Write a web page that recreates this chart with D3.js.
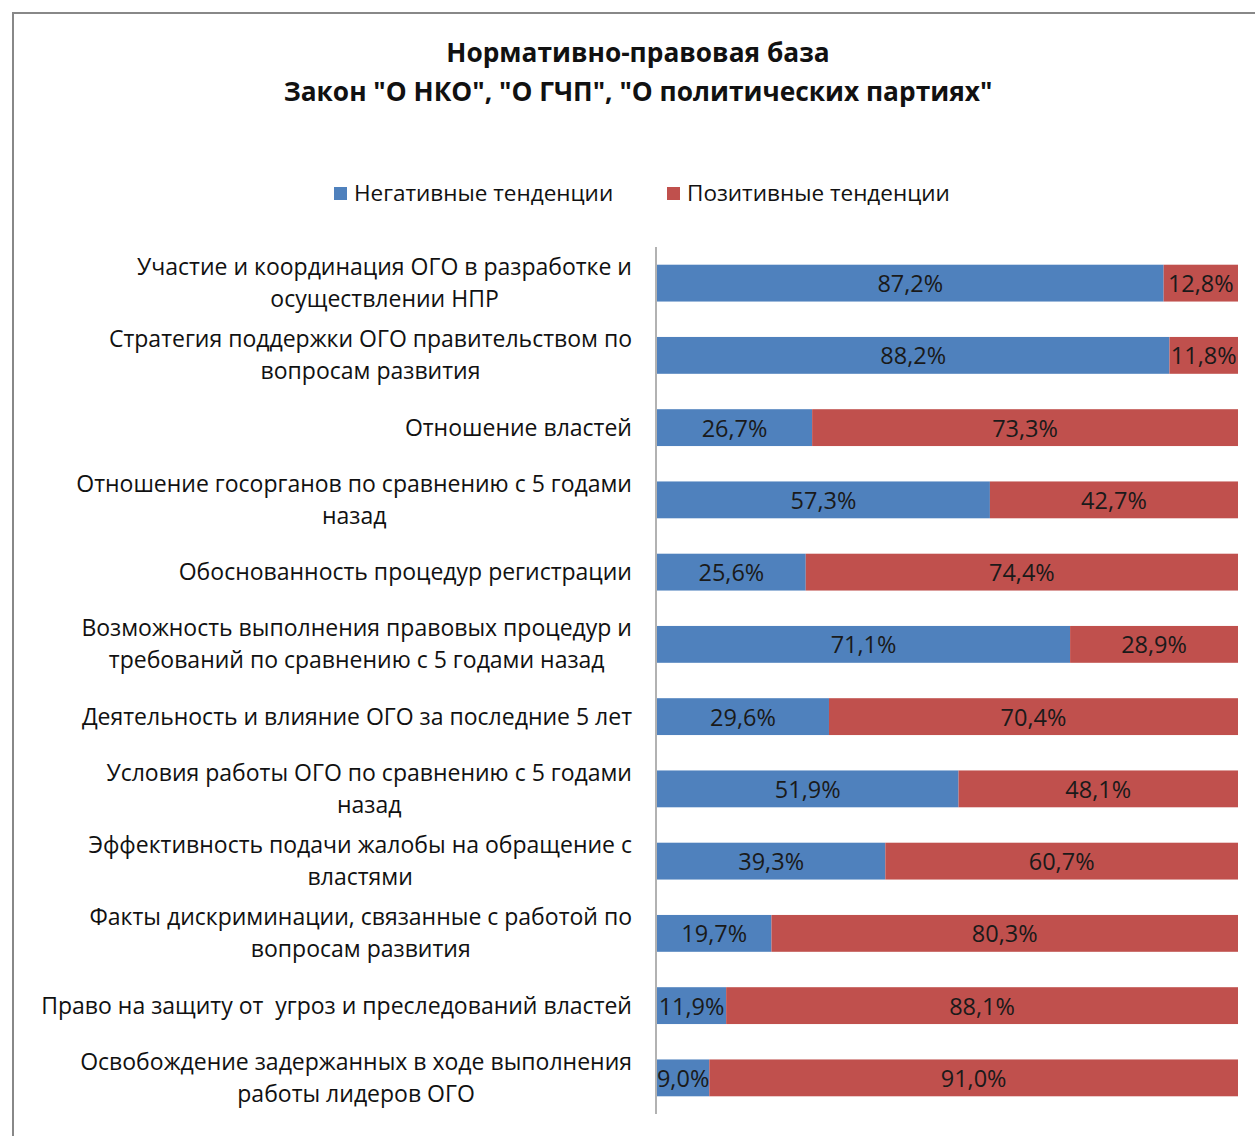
<!DOCTYPE html>
<html>
<head>
<meta charset="utf-8">
<script src="https://cdn.jsdelivr.net/npm/d3@7"></script>
<style>
  body { margin: 0; background: #fff; }
  text { font-family: "Open Sans", sans-serif; white-space: pre; }
</style>
</head>
<body>
<svg></svg>
<script>
const categories = [
  'Участие и координация ОГО в разработке и\nосуществлении НПР',
  'Стратегия поддержки ОГО правительством по\nвопросам развития',
  'Отношение властей',
  'Отношение госорганов по сравнению с 5 годами\nназад',
  'Обоснованность процедур регистрации',
  'Возможность выполнения правовых процедур и\nтребований по сравнению с 5 годами назад',
  'Деятельность и влияние ОГО за последние 5 лет',
  'Условия работы ОГО по сравнению с 5 годами\nназад',
  'Эффективность подачи жалобы на обращение с\nвластями',
  'Факты дискриминации, связанные с работой по\nвопросам развития',
  'Право на защиту от  угроз и преследований властей',
  'Освобождение задержанных в ходе выполнения\nработы лидеров ОГО'
];
const negative = [87.2, 88.2, 26.7, 57.3, 25.6, 71.1, 29.6, 51.9, 39.3, 19.7, 11.9, 9.0];
const positive = [12.8, 11.8, 73.3, 42.7, 74.4, 28.9, 70.4, 48.1, 60.7, 80.3, 88.1, 91.0];
const seriesNames = ['Негативные тенденции', 'Позитивные тенденции'];
const colors = ['#4F81BD', '#C0504D'];

const [svgWidth, svgHeight] = [1255, 1136];
const svg = d3.select('svg')
  .attr('width', svgWidth)
  .attr('height', svgHeight);

// frame
svg.append('path')
  .attr('d', `M13,${svgHeight} V13 H${svgWidth}`)
  .attr('fill', 'none')
  .attr('stroke', '#888')
  .attr('stroke-width', 2);

// title
const title = svg.append('text')
  .attr('text-anchor', 'middle')
  .attr('font-size', 26.3)
  .attr('font-weight', 'bold')
  .attr('fill', '#111');
title.append('tspan').attr('x', 638).attr('y', 62).text('Нормативно-правовая база');
title.append('tspan').attr('x', 638).attr('y', 101).text('Закон "О НКО", "О ГЧП", "О политических партиях"');

// legend
const legendX = [334, 667];
const legend = svg.selectAll('g.legend')
  .data(seriesNames)
  .enter()
  .append('g')
  .attr('class', 'legend')
  .attr('transform', (d, i) => `translate(${legendX[i]}, 193)`);
legend.append('rect')
  .attr('x', 0).attr('y', -6)
  .attr('width', 13).attr('height', 13)
  .attr('fill', (d, i) => colors[i]);
legend.append('text')
  .attr('x', 20).attr('dy', '0.35em')
  .attr('font-size', 22.5)
  .attr('fill', '#111')
  .text(d => d);

// plot
const x = d3.scaleLinear().domain([0, 100]).range([657, 1238]);
const y = d3.scaleBand()
  .domain(d3.range(categories.length))
  .range([247, 1114])
  .paddingInner(0.49)
  .paddingOuter(0.245);

const rows = categories.map((c, i) => ({
  cat: c,
  segs: [
    { x0: 0, x1: negative[i], v: negative[i], s: 0 },
    { x0: negative[i], x1: negative[i] + positive[i], v: positive[i], s: 1 }
  ]
}));

const rowG = svg.selectAll('g.row')
  .data(rows)
  .enter()
  .append('g')
  .attr('class', 'row')
  .attr('transform', (d, i) => `translate(0, ${y(i)})`);

rowG.selectAll('rect')
  .data(d => d.segs)
  .enter()
  .append('rect')
  .attr('x', d => x(d.x0))
  .attr('y', 0)
  .attr('width', d => x(d.x1) - x(d.x0))
  .attr('height', y.bandwidth())
  .attr('fill', d => colors[d.s]);

const fmt = v => v.toFixed(1).replace('.', ',') + '%';
rowG.selectAll('text.val')
  .data(d => d.segs)
  .enter()
  .append('text')
  .attr('class', 'val')
  .attr('x', d => (x(d.x0) + x(d.x1)) / 2)
  .attr('y', y.bandwidth() / 2)
  .attr('dy', '0.38em')
  .attr('text-anchor', 'middle')
  .attr('font-size', 23.5)
  .attr('fill', '#1a1a1a')
  .text(d => fmt(d.v));

// category labels: block right-aligned, lines centered within it
const labelRight = 632;
rowG.append('text')
  .attr('text-anchor', 'middle')
  .attr('font-size', 23)
  .attr('fill', '#111')
  .each(function(d) {
    const lines = d.cat.split('\n');
    const t = d3.select(this);
    const spans = lines.map((ln, j) => t.append('tspan')
      .attr('y', y.bandwidth() / 2 + (j - (lines.length - 1) / 2) * 32)
      .attr('dy', '0.35em')
      .text(ln));
    const w = d3.max(spans, s => s.node().getComputedTextLength());
    spans.forEach(s => s.attr('x', labelRight - w / 2));
  });

// axis line
svg.append('line')
  .attr('x1', 656).attr('x2', 656)
  .attr('y1', 247).attr('y2', 1114)
  .attr('stroke', '#999')
  .attr('stroke-width', 1.5);
</script>
</body>
</html>
